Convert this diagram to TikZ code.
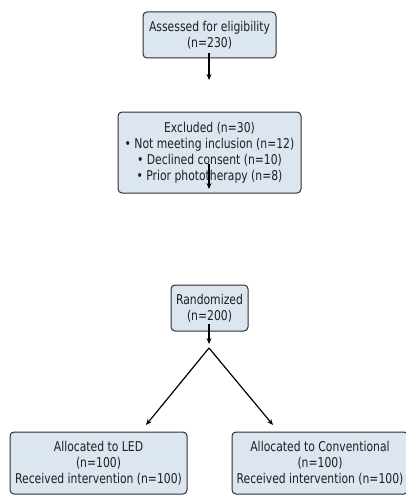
\documentclass[tikz,border=0pt]{standalone}
\usepackage{fontspec}
\setmainfont[FakeStretch=0.89]{DejaVu Sans Condensed}
\usetikzlibrary{arrows.meta}
\definecolor{boxfill}{RGB}{220,230,240}
\definecolor{boxedge}{RGB}{45,45,45}
\definecolor{textgrey}{RGB}{30,30,30}
\tikzset{
  flowbox/.style={draw=boxedge, line width=1pt, fill=boxfill, rounded corners=4pt,
    align=center, inner sep=0pt, text=textgrey, font=\fontsize{13.5}{16}\selectfont},
  flowarrow/.style={draw=black, line width=1.2pt, -{Stealth[length=6pt,width=5pt]}}
}
\begin{document}
\begin{tikzpicture}[x=1pt,y=-1pt]
\useasboundingbox (0,0) rectangle (405,495);
\node[flowbox, minimum width=133pt, minimum height=46pt] (assess) at (209.5,35) {Assessed for eligibility\\(n=230)};
\node[flowbox, minimum width=183pt, minimum height=81pt] (excl) at (209.5,152.5) {Excluded (n=30)\\• Not meeting inclusion (n=12)\\• Declined consent (n=10)\\• Prior phototherapy (n=8)};
\node[flowbox, minimum width=77pt, minimum height=46pt] (rand) at (209.5,308) {Randomized\\(n=200)};
\node[flowbox, minimum width=177pt, minimum height=62pt] (led) at (98.5,463) {Allocated to LED\\(n=100)\\Received intervention (n=100)};
\node[flowbox, minimum width=176pt, minimum height=62pt] (conv) at (320,463) {Allocated to Conventional\\(n=100)\\Received intervention (n=100)};
\coordinate (a1s) at (209,53);
\coordinate (a1e) at (209,80);
\coordinate (a2s) at (209,164);
\coordinate (a2e) at (209,189);
\coordinate (a3s) at (209,324);
\coordinate (a3e) at (209,344);
\coordinate (split) at (209,348);
\coordinate (ledtip) at (146,425);
\coordinate (convtip) at (273,425);
\draw[flowarrow] (a1s) -- (a1e);
\draw[flowarrow] (a2s) -- (a2e);
\draw[flowarrow] (a3s) -- (a3e);
\draw[flowarrow] (split) -- (ledtip);
\draw[flowarrow] (split) -- (convtip);
\end{tikzpicture}
\end{document}
